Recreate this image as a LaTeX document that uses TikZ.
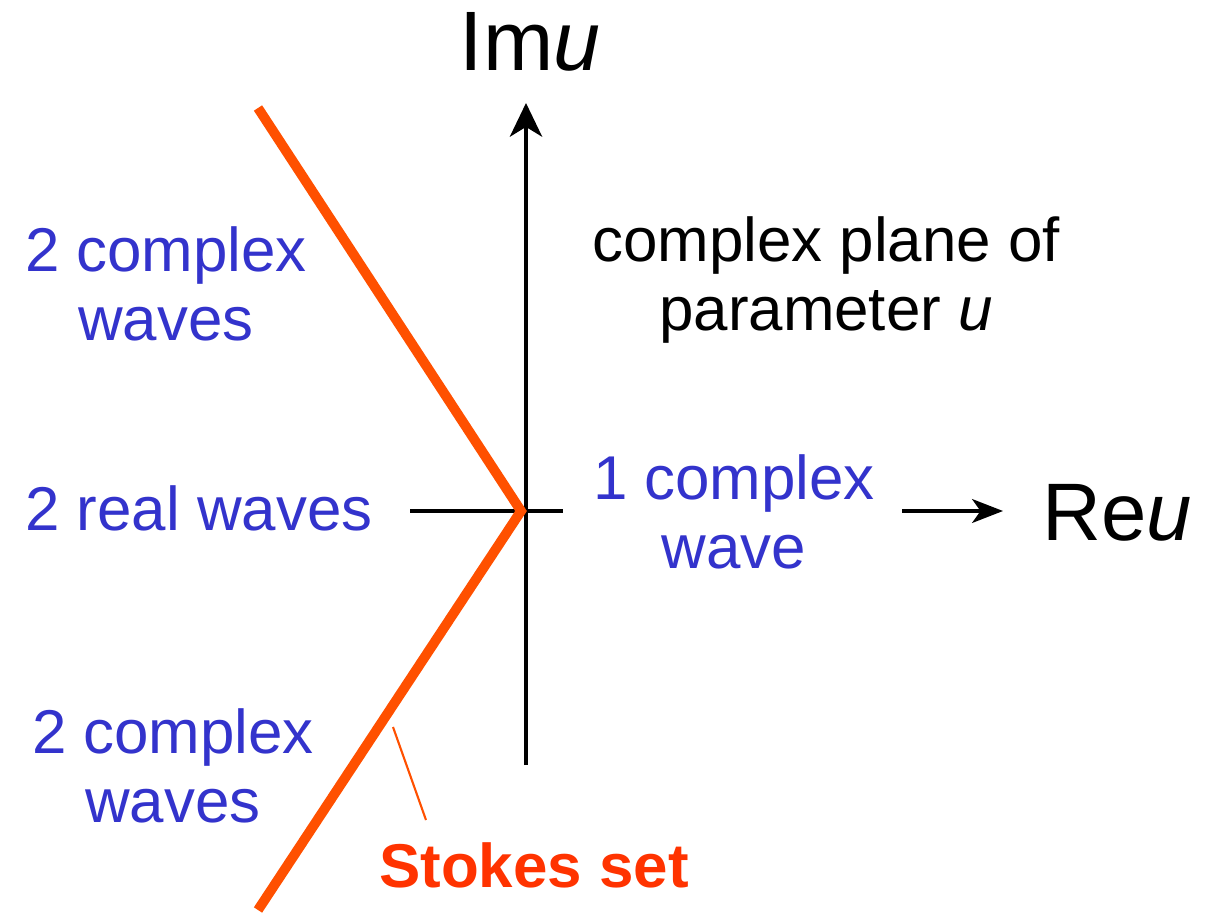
\documentclass[tikz,border=0pt]{standalone}
\usepackage{fontspec}
\setmainfont{Liberation Sans}
\usetikzlibrary{arrows.meta}
\definecolor{waveblue}{RGB}{51,51,204}
\definecolor{stokesline}{RGB}{255,80,0}
\definecolor{stokestext}{RGB}{255,51,0}
\tikzset{
  wavelabel/.style={text=waveblue, font=\fontsize{44}{49}\selectfont, align=center, inner sep=0pt},
  planelabel/.style={font=\fontsize{44}{48.5}\selectfont, align=center, inner sep=0pt},
  axislabel/.style={inner sep=0pt, anchor=base},
  axisline/.style={line width=2.2pt},
  stokes/.style={stokesline, line width=7pt, line join=miter}
}
\begin{document}
\begin{tikzpicture}[x=0.025cm, y=-0.025cm]
\useasboundingbox (0,0) rectangle (1224,915);

\coordinate (imfoot) at (526,765);
\coordinate (imtip) at (526,103);
\coordinate (releft) at (410,511);
\coordinate (reright) at (563,511);
\coordinate (restart) at (902,511);
\coordinate (retip) at (1003,511);

\draw[axisline, -{Stealth[length=24pt, width=23pt, inset=7pt]}] (imfoot) -- (imtip);
\draw[axisline] (releft) -- (reright);
\draw[axisline, -{Stealth[length=22pt, width=17pt, inset=6pt]}] (restart) -- (retip);

\node[axislabel, font=\fontsize{60}{60}\selectfont] (im) at (530,70) {Im\textit{u}};
\node[axislabel, font=\fontsize{58}{58}\selectfont] (re) at (1117,540) {Re\textit{u}};

\coordinate (stop) at (258,108);
\coordinate (svertex) at (521,511);
\coordinate (sbottom) at (258,910);
\draw[stokes] (stop) -- (svertex) -- (sbottom);

\node[wavelabel, anchor=base] (upper) at (166,340) {2 complex\\waves};
\node[wavelabel, anchor=base] (real) at (199,530) {2 real waves};
\node[wavelabel, anchor=base] (lower) at (173,822) {2 complex\\waves};
\node[wavelabel, anchor=base] (right) at (734,568) {1 complex\\wave};

\node[planelabel, anchor=base] (plane) at (826,330) {complex plane of\\parameter \textit{u}};

\node[axislabel, text=stokestext, font=\fontsize{44}{44}\selectfont\bfseries] (set) at (534,887) {Stokes set};
\coordinate (leadtop) at (393,727);
\coordinate (leadfoot) at (426,820);
\draw[stokesline, line width=1.5pt] (leadfoot) -- (leadtop);

\end{tikzpicture}
\end{document}
